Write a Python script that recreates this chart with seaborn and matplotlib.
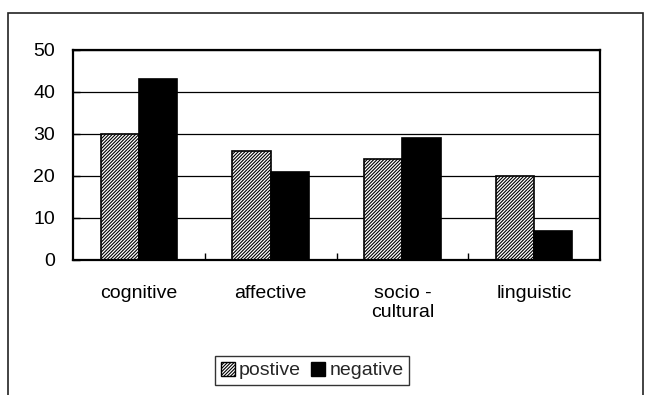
import matplotlib
matplotlib.use("Agg")
import matplotlib.pyplot as plt
from matplotlib.patches import Patch, Rectangle
import seaborn as sns
import pandas as pd

categories = ["cognitive", "affective", "socio -\ncultural", "linguistic"]
series_names = ["postive", "negative"]
postive = [30, 26, 24, 20]
negative = [43, 21, 29, 7]
y_ticks = [0, 10, 20, 30, 40, 50]

df = pd.DataFrame({
    "category": categories * 2,
    "value": postive + negative,
    "series": [series_names[0]] * len(categories) + [series_names[1]] * len(categories),
})

sns.set_theme(style="white")
plt.rcParams["font.family"] = ["Liberation Sans", "DejaVu Sans"]
plt.rcParams["hatch.linewidth"] = 0.8
plt.rcParams["hatch.color"] = "#3a3a3a"

HATCH = "//////////"

fig = plt.figure(figsize=(6.47, 3.95), dpi=100)
ax = fig.add_axes([73 / 647, 1 - 260 / 395, 527 / 647, 210 / 395])

sns.barplot(data=df, x="category", y="value", hue="series",
            palette=["white", "black"], edgecolor="black", linewidth=1.2,
            width=0.58, ax=ax, legend=False, saturation=1)

n = len(categories)
for p in ax.patches[:n]:
    p.set_hatch(HATCH)
    p.set_edgecolor("black")

ax.set_ylim(0, 50)
ax.set_xlim(-0.5, n - 0.5)
ax.set_yticks(y_ticks)
ax.set_yticklabels([str(v) for v in y_ticks])
ax.yaxis.grid(True, color="black", linewidth=0.9)
ax.set_axisbelow(True)
ax.set_xlabel("")
ax.set_ylabel("")

for s in ax.spines.values():
    s.set_visible(True)
    s.set_color("black")
    s.set_linewidth(1.6)

ax.tick_params(axis="y", direction="in", length=5, width=1, pad=13,
               labelsize=14, colors="black", left=True)
ax.tick_params(axis="x", which="major", length=0, pad=18, labelsize=14,
               colors="black")
ax.set_xticks(range(n))
ax.set_xticklabels(categories, linespacing=1.15)
# category separator ticks
ax.set_xticks([i + 0.5 for i in range(n - 1)], minor=True)
ax.tick_params(axis="x", which="minor", direction="in", length=5, width=1,
               bottom=True, color="black")

handles = [
    Patch(facecolor="white", edgecolor="black", hatch=HATCH, label=series_names[0]),
    Patch(facecolor="black", edgecolor="black", label=series_names[1]),
]
leg = fig.legend(handles=handles, loc="center", bbox_to_anchor=(312 / 647, 1 - 370.5 / 395),
                 ncol=2, frameon=True, fancybox=False, fontsize=14,
                 handlelength=0.75, handleheight=0.75, handletextpad=0.2,
                 columnspacing=0.5, borderpad=0.3, edgecolor="black")
leg.get_frame().set_linewidth(1.0)

# outer chart-area border
fig.patches.append(Rectangle((8 / 647, -0.05), (643 - 8) / 647, 1.05 - 13 / 395,
                             transform=fig.transFigure, fill=False,
                             edgecolor="#222222", linewidth=1.2))

fig.savefig("out.png", dpi=100)
